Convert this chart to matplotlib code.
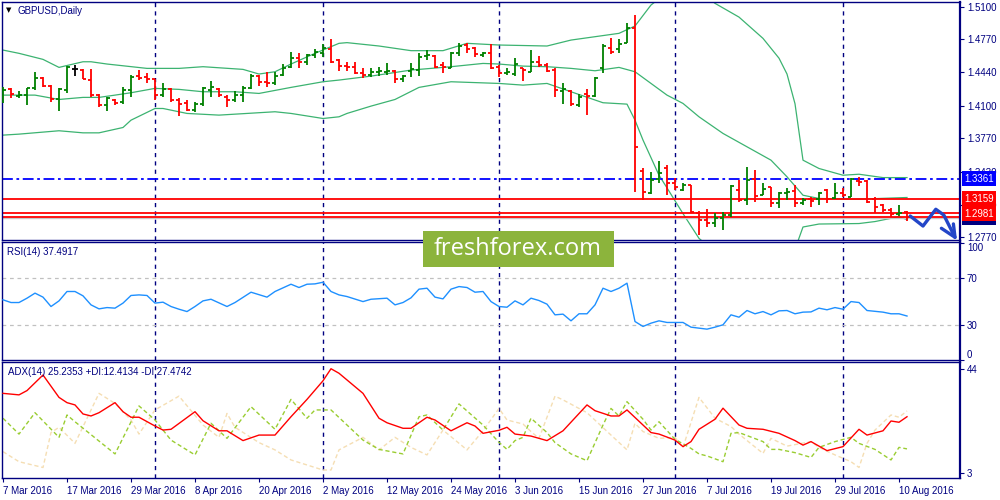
import matplotlib
matplotlib.use("Agg")
import matplotlib.pyplot as plt
import matplotlib.transforms as mtransforms
from matplotlib.patches import Rectangle
import numpy as np
import pandas as pd

# ---- data ----
dates = pd.bdate_range("2016-03-07", periods=114)

opens = [1.4198, 1.4269, 1.4198, 1.4208, 1.4279, 1.4380, 1.4299, 1.4168, 1.4259, 1.4471,
         1.4461, 1.4360, 1.4208, 1.4107, 1.4158, 1.4137, 1.4259, 1.4400, 1.4390, 1.4370,
         1.4208, 1.4269, 1.4158, 1.4127, 1.4057, 1.4117, 1.4259, 1.4269, 1.4188, 1.4158,
         1.4208, 1.4279, 1.4400, 1.4340, 1.4329, 1.4410, 1.4491, 1.4582, 1.4542, 1.4612,
         1.4632, 1.4673, 1.4562, 1.4501, 1.4491, 1.4430, 1.4410, 1.4440, 1.4440, 1.4451,
         1.4370, 1.4451, 1.4461, 1.4602, 1.4602, 1.4511, 1.4481, 1.4632, 1.4713, 1.4683,
         1.4612, 1.4632, 1.4491, 1.4430, 1.4420, 1.4481, 1.4440, 1.4542, 1.4511, 1.4461,
         1.4249, 1.4249, 1.4107, 1.4218, 1.4198, 1.4481, 1.4683, 1.4673, 1.4733, 1.4885,
         1.3441, 1.3218, 1.3360, 1.3471, 1.3319, 1.3249, 1.3299, 1.3016, 1.2946, 1.2915,
         1.2966, 1.2996, 1.3249, 1.3148, 1.3360, 1.3198, 1.3279, 1.3117, 1.3218, 1.3239,
         1.3117, 1.3158, 1.3158, 1.3249, 1.3168, 1.3218, 1.3178, 1.3340, 1.3340, 1.3158,
         1.3097, 1.3047, 1.3006, 1.3027]
highs = [1.4289, 1.4279, 1.4249, 1.4279, 1.4440, 1.4390, 1.4309, 1.4279, 1.4501, 1.4511,
         1.4471, 1.4471, 1.4218, 1.4188, 1.4168, 1.4289, 1.4410, 1.4461, 1.4430, 1.4370,
         1.4329, 1.4279, 1.4178, 1.4158, 1.4137, 1.4289, 1.4350, 1.4279, 1.4208, 1.4249,
         1.4299, 1.4420, 1.4410, 1.4440, 1.4440, 1.4521, 1.4642, 1.4632, 1.4622, 1.4673,
         1.4723, 1.4774, 1.4572, 1.4542, 1.4542, 1.4481, 1.4481, 1.4491, 1.4531, 1.4461,
         1.4410, 1.4531, 1.4632, 1.4663, 1.4612, 1.4542, 1.4642, 1.4733, 1.4733, 1.4693,
         1.4642, 1.4723, 1.4511, 1.4481, 1.4582, 1.4481, 1.4663, 1.4602, 1.4531, 1.4481,
         1.4329, 1.4259, 1.4218, 1.4269, 1.4390, 1.4723, 1.4784, 1.4774, 1.4935, 1.5016,
         1.3471, 1.3430, 1.3542, 1.3501, 1.3370, 1.3319, 1.3299, 1.3037, 1.3057, 1.3016,
         1.3027, 1.3299, 1.3350, 1.3481, 1.3451, 1.3319, 1.3279, 1.3228, 1.3269, 1.3299,
         1.3168, 1.3178, 1.3228, 1.3259, 1.3319, 1.3269, 1.3370, 1.3380, 1.3350, 1.3178,
         1.3107, 1.3067, 1.3097, 1.3037]
lows = [1.4127, 1.4178, 1.4178, 1.4107, 1.4259, 1.4289, 1.4137, 1.4047, 1.4228, 1.4400,
        1.4370, 1.4188, 1.4087, 1.4047, 1.4107, 1.4117, 1.4188, 1.4360, 1.4329, 1.4158,
        1.4188, 1.4137, 1.3996, 1.4047, 1.4037, 1.4097, 1.4188, 1.4188, 1.4087, 1.4137,
        1.4137, 1.4269, 1.4299, 1.4289, 1.4309, 1.4400, 1.4481, 1.4481, 1.4511, 1.4582,
        1.4592, 1.4531, 1.4451, 1.4451, 1.4420, 1.4380, 1.4390, 1.4400, 1.4410, 1.4329,
        1.4340, 1.4390, 1.4400, 1.4562, 1.4481, 1.4430, 1.4481, 1.4602, 1.4632, 1.4592,
        1.4592, 1.4471, 1.4390, 1.4410, 1.4400, 1.4350, 1.4440, 1.4491, 1.4440, 1.4188,
        1.4117, 1.4097, 1.4087, 1.4006, 1.4188, 1.4430, 1.4622, 1.4632, 1.4733, 1.3228,
        1.3148, 1.3208, 1.3319, 1.3198, 1.3249, 1.3239, 1.3016, 1.2794, 1.2875, 1.2875,
        1.2845, 1.2976, 1.3127, 1.3097, 1.3127, 1.3198, 1.3077, 1.3067, 1.3148, 1.3077,
        1.3097, 1.3077, 1.3097, 1.3117, 1.3158, 1.3178, 1.3178, 1.3289, 1.3117, 1.3016,
        1.3027, 1.2976, 1.2986, 1.2936]
closes = [1.4259, 1.4218, 1.4208, 1.4279, 1.4380, 1.4299, 1.4168, 1.4269, 1.4491, 1.4471,
          1.4370, 1.4208, 1.4107, 1.4178, 1.4127, 1.4259, 1.4390, 1.4380, 1.4370, 1.4208,
          1.4269, 1.4158, 1.4117, 1.4057, 1.4117, 1.4279, 1.4289, 1.4208, 1.4158, 1.4208,
          1.4279, 1.4400, 1.4340, 1.4329, 1.4400, 1.4481, 1.4582, 1.4542, 1.4612, 1.4642,
          1.4683, 1.4542, 1.4501, 1.4491, 1.4430, 1.4410, 1.4440, 1.4451, 1.4451, 1.4370,
          1.4400, 1.4471, 1.4592, 1.4612, 1.4491, 1.4491, 1.4632, 1.4703, 1.4673, 1.4622,
          1.4632, 1.4481, 1.4430, 1.4440, 1.4521, 1.4461, 1.4542, 1.4511, 1.4451, 1.4259,
          1.4269, 1.4117, 1.4188, 1.4198, 1.4380, 1.4703, 1.4642, 1.4723, 1.4885, 1.3683,
          1.3228, 1.3350, 1.3420, 1.3319, 1.3279, 1.3299, 1.3027, 1.2946, 1.2915, 1.2966,
          1.2996, 1.3289, 1.3148, 1.3350, 1.3188, 1.3259, 1.3117, 1.3218, 1.3228, 1.3117,
          1.3148, 1.3138, 1.3218, 1.3158, 1.3218, 1.3198, 1.3360, 1.3329, 1.3127, 1.3077,
          1.3047, 1.3006, 1.3016, 1.2976]

# Bollinger bands (20): vertices as (bar index, price)
bb_up_bar = [0, 2, 5, 7, 10, 11, 13, 18, 22, 25, 30, 32, 34, 36, 39, 42, 43, 47, 51, 55,
             58, 62, 68, 71, 74, 77, 79, 81, 82, 84, 86, 88, 89, 92, 95, 97, 98, 99, 100,
             102, 105, 107, 110, 113]
bb_up = [1.4662, 1.4629, 1.4568, 1.4487, 1.4544, 1.4544, 1.4521, 1.4477, 1.4477, 1.4494,
         1.4467, 1.4420, 1.4443, 1.4521, 1.4629, 1.4730, 1.4737, 1.4703, 1.4656, 1.4656,
         1.4730, 1.4713, 1.4703, 1.4763, 1.4797, 1.4831, 1.4905, 1.5117, 1.5180, 1.5260,
         1.5280, 1.5200, 1.5134, 1.4995, 1.4780, 1.4580, 1.4420, 1.4120, 1.3550,
         1.3466, 1.3398, 1.3408, 1.3374, 1.3374]
bb_mid_bar = [0, 4, 7, 10, 12, 14, 16, 19, 22, 25, 29, 32, 36, 40, 42, 46, 51, 56, 60, 62,
              65, 68, 71, 74, 77, 79, 81, 83, 85, 87, 90, 93, 96, 98, 100, 102, 107, 113]
bb_mid = [1.4207, 1.4207, 1.4163, 1.4184, 1.4184, 1.4207, 1.4231, 1.4275, 1.4265, 1.4241,
          1.4241, 1.4224, 1.4285, 1.4342, 1.4359, 1.4399, 1.4460, 1.4494, 1.4527, 1.4521,
          1.4500, 1.4494, 1.4477, 1.4453, 1.4487, 1.4443, 1.4325, 1.4207, 1.4123, 1.3988,
          1.3820, 1.3685, 1.3550, 1.3382, 1.3196, 1.3163, 1.3156, 1.3173]
bb_lo_bar = [0, 2, 7, 10, 12, 15, 16, 19, 20, 23, 27, 34, 36, 40, 42, 43, 46, 49, 52, 56,
             62, 65, 68, 71, 75, 78, 79, 80, 82, 83, 85, 87, 90, 95, 98, 99, 100, 102,
             107, 109, 112, 113]
bb_lo = [1.3803, 1.3813, 1.3847, 1.3826, 1.3826, 1.3880, 1.3954, 1.4072, 1.4072, 1.4022,
         1.4005, 1.4039, 1.4022, 1.3971, 1.3988, 1.4022, 1.4096, 1.4163, 1.4285, 1.4342,
         1.4325, 1.4308, 1.4325, 1.4241, 1.4130, 1.4116, 1.3954, 1.3753, 1.3398, 1.3270,
         1.3010, 1.2760, 1.2560, 1.2450, 1.2560, 1.2650, 1.2875, 1.2905,
         1.2910, 1.2930, 1.2979, 1.2950]

rsi_bar = [0, 1, 2, 3, 4, 5, 6, 7, 8, 9, 10, 11, 12, 13, 14, 15, 16, 17, 18, 19, 20, 21, 22,
           23, 24, 25, 26, 28, 29, 31, 33, 34, 36, 37, 38, 39, 40, 41, 42, 43, 45, 46, 48,
           49, 50, 51, 52, 53, 54, 55, 56, 57, 58, 59, 60, 61, 62, 63, 64, 65, 66, 67, 68,
           69, 70, 71, 72, 73, 74, 75, 76, 77, 78, 79, 80, 81, 82, 83, 85, 86, 88, 89, 90,
           91, 92, 93, 94, 95, 96, 97, 98, 99, 100, 101, 102, 103, 104, 105, 106, 107, 108,
           110, 111, 112, 113]
rsi = [51.3, 49.0, 49.0, 52.7, 57.0, 53.6, 45.6, 50.4, 58.4, 58.4, 54.7, 47.0, 43.6, 44.7,
       44.2, 48.5, 55.0, 55.5, 55.0, 48.5, 49.3, 45.6, 43.3, 41.3, 45.6, 50.4, 51.8, 45.6,
       49.0, 57.8, 53.6, 58.4, 64.6, 61.8, 64.6, 64.9, 66.3, 58.4, 55.5, 54.1, 49.8, 51.8,
       52.7, 47.0, 49.0, 53.0, 60.4, 61.2, 53.6, 52.1, 60.4, 62.6, 61.8, 57.8, 58.4, 49.8,
       45.6, 45.0, 50.4, 47.0, 52.7, 50.7, 47.6, 38.5, 39.1, 33.4, 39.4, 39.4, 47.0, 61.2,
       58.4, 61.2, 65.5, 32.8, 28.6, 31.4, 33.4, 32.0, 32.0, 28.0, 26.3, 28.0, 30.0, 38.5,
       36.5, 42.2, 39.4, 41.3, 38.5, 41.9, 42.2, 39.4, 40.8, 41.0, 44.2, 42.8, 44.7, 43.3,
       49.8, 49.0, 42.2, 40.8, 39.4, 39.4, 37.5]

adx_bar = [0, 2, 3, 5, 7, 8, 9, 10, 11, 12, 14, 15, 16, 17, 19, 20, 21, 24, 25, 27, 28, 30,
           32, 34, 36, 38, 40, 41, 42, 45, 47, 48, 50, 51, 53, 54, 56, 58, 59, 60, 62, 63,
           64, 66, 68, 70, 73, 74, 76, 77, 78, 81, 82, 84, 85, 86, 87, 89, 90, 92, 93, 95,
           97, 99, 100, 101, 103, 105, 107, 108, 110, 111, 112, 113]
adx = [34.5, 33.9, 35.6, 41.8, 32.9, 30.8, 29.9, 26.3, 25.5, 26.8, 30.8, 27.2, 25.0, 25.0,
       21.5, 19.9, 20.2, 27.2, 23.6, 19.6, 19.6, 15.7, 17.9, 17.9, 25.2, 32.1, 39.5, 44.3,
       42.5, 34.5, 24.6, 22.8, 20.6, 20.6, 25.0, 23.9, 19.6, 22.8, 21.5, 18.6, 19.8, 21.0,
       18.3, 17.5, 15.7, 19.6, 29.9, 27.6, 25.5, 25.5, 27.9, 18.9, 18.3, 15.9, 13.3, 15.3,
       20.2, 24.2, 28.6, 21.9, 20.6, 20.2, 18.6, 15.7, 13.9, 15.3, 11.7, 13.3, 20.2, 17.9,
       19.6, 23.5, 23.0, 25.2]
pdi_bar = [0, 2, 4, 7, 8, 9, 14, 17, 19, 21, 24, 26, 28, 31, 34, 36, 38, 39, 41, 45, 47, 50,
           52, 53, 55, 57, 60, 62, 63, 64, 65, 66, 68, 69, 71, 73, 75, 76, 77, 78, 80, 81,
           82, 84, 86, 87, 88, 90, 91, 92, 95, 96, 97, 99, 101, 102, 104, 106, 107, 109,
           111, 112, 113]
pdi = [24.6, 18.3, 26.8, 17.0, 25.9, 23.2, 10.4, 29.5, 23.9, 15.9, 10.0, 22.6, 16.6, 29.2,
       20.2, 32.1, 24.6, 27.9, 27.9, 15.9, 12.2, 10.4, 25.2, 25.9, 19.9, 30.3, 21.9, 15.0,
       12.2, 15.7, 17.0, 24.6, 18.9, 14.9, 10.4, 7.7, 21.9, 28.5, 25.5, 31.2, 24.2, 19.9,
       23.2, 16.2, 12.6, 10.4, 9.6, 7.3, 18.6, 18.9, 15.3, 12.2, 12.2, 10.9, 9.0, 13.0,
       15.3, 17.0, 14.6, 12.2, 8.0, 13.0, 12.4]
mdi_bar = [0, 2, 5, 6, 7, 9, 12, 14, 16, 17, 19, 22, 25, 27, 28, 29, 32, 34, 36, 40, 41, 42,
           45, 47, 49, 51, 53, 55, 58, 60, 62, 63, 65, 66, 67, 69, 70, 73, 76, 78, 79, 80,
           82, 84, 85, 87, 89, 91, 92, 95, 96, 98, 101, 102, 104, 106, 107, 108, 109, 111,
           112, 113]
mdi = [11.3, 7.3, 5.0, 18.9, 21.0, 14.6, 34.5, 30.5, 23.9, 18.3, 27.9, 33.4, 21.9, 17.0,
       26.5, 21.0, 14.9, 12.0, 8.0, 4.0, 4.0, 12.0, 17.0, 12.0, 17.0, 13.0, 10.0, 19.9,
       12.0, 19.6, 28.5, 23.9, 22.3, 19.3, 16.6, 33.4, 31.9, 26.8, 17.9, 12.0, 22.6, 19.3,
       16.6, 17.0, 13.0, 32.9, 24.6, 21.3, 18.3, 10.6, 16.6, 13.5, 15.3, 13.0, 10.0, 7.3,
       5.0, 14.6, 19.9, 25.9, 25.0, 27.5]

blue_level = 1.3361
red_levels = [1.3159, 1.3015, 1.2981]
bid_level = 1.2963
price_ticks = [1.5100, 1.4770, 1.4440, 1.4100, 1.3770, 1.3430, 1.3100, 1.2770]

# hand-drawn forecast arrow (bar index, price)
arrow_bar = [113.4, 115.0, 116.6, 117.6, 119.0]
arrow_price = [1.2986, 1.2885, 1.3054, 1.2996, 1.2771]
head_bar = [117.3, 119.0, 118.8]
head_price = [1.2862, 1.2771, 1.2906]

NAVY = "#000080"
GREEN = "#008000"
RED = "#FF0000"

plt.rcParams["font.family"] = ["Liberation Sans", "DejaVu Sans"]

W, H = 1000, 500
fig = plt.figure(figsize=(10, 5), dpi=100)
fig.patch.set_facecolor("white")


def px_axes(x0, y0, x1, y1):
    # pixel box measured from the top-left corner
    return fig.add_axes([x0 / W, 1 - y1 / H, (x1 - x0) / W, (y1 - y0) / H])


ax = px_axes(2, 2, 960, 240)
ax_rsi = px_axes(2, 242, 960, 360)
ax_adx = px_axes(2, 362, 960, 478)

x = np.arange(len(dates))
xlim = (-0.125, 119.625)
month_first = [i for i in range(1, len(dates)) if dates[i].month != dates[i - 1].month]

for a in (ax, ax_rsi, ax_adx):
    a.set_xlim(*xlim)
    for s in a.spines.values():
        s.set_color(NAVY)
        s.set_linewidth(1.0)
    a.spines["right"].set_linewidth(1.6)
    a.yaxis.tick_right()
    a.tick_params(axis="y", colors=NAVY, labelcolor=NAVY, labelsize=7,
                  length=3, width=0.8, pad=2)
    for m in month_first:
        a.axvline(m, color=NAVY, lw=1.0, ls=(0, (3, 3)), zorder=1)

# ---- price panel ----
ax.set_ylim(1.27437, 1.51475)
ax.set_xticks([])
ax.set_yticks(price_ticks)
ax.set_yticklabels(["%.4f" % p for p in price_ticks])

band = "#3CB371"
ax.plot(bb_up_bar, bb_up, color=band, lw=0.9, zorder=2)
ax.plot(bb_mid_bar, bb_mid, color=band, lw=0.9, zorder=2)
ax.plot(bb_lo_bar, bb_lo, color=band, lw=0.9, zorder=2)

ax.axhline(bid_level, color="#C8C8C8", lw=1.0, zorder=2)
for lv in red_levels:
    ax.axhline(lv, color=RED, lw=1.3, zorder=2.2)
ax.axhline(blue_level, color="#0000FF", lw=1.3, ls=(0, (6, 2, 1.5, 2)), zorder=2.2)

o = np.array(opens)
c = np.array(closes)
cols = [GREEN if cc > oo else (RED if cc < oo else "black") for oo, cc in zip(o, c)]
ax.vlines(x, lows, highs, colors=cols, lw=1.3, zorder=3)
ax.hlines(o, x - 0.35, x, colors=cols, lw=1.3, zorder=3)
ax.hlines(c, x, x + 0.35, colors=cols, lw=1.3, zorder=3)

ax.plot(arrow_bar, arrow_price, color="#2346C8", lw=2.4, solid_joinstyle="round",
        solid_capstyle="round", clip_on=False, zorder=4)
ax.plot(head_bar, head_price, color="#2346C8", lw=2.4, solid_joinstyle="round",
        solid_capstyle="round", clip_on=False, zorder=4)

lab_tr = mtransforms.blended_transform_factory(ax.transAxes, ax.transData)
box_x = 1.0042


def price_box(level, text, color, dy=0):
    tr = mtransforms.offset_copy(lab_tr, fig=fig, x=0, y=dy, units="dots")
    ax.text(box_x, level, text, transform=tr, color="white", fontsize=7,
            ha="left", va="center", clip_on=False, zorder=6,
            bbox=dict(boxstyle="square,pad=0.25", fc=color, ec="none"))


price_box(blue_level, "%.4f" % blue_level, "#0000FF")
price_box(red_levels[0], "%.4f" % red_levels[0], RED)
price_box(red_levels[2], "%.4f" % red_levels[2], NAVY, dy=-1)
price_box(red_levels[2], "%.4f" % red_levels[2], RED, dy=3)

# ---- RSI panel ----
ax_rsi.set_ylim(0, 100.6)
ax_rsi.set_xticks([])
ax_rsi.set_yticks([0, 30, 70, 100])
ax_rsi.set_yticklabels(["0", "30", "70", "100"])
for t in ax_rsi.get_yticklabels():
    if t.get_text() == "100":
        t.set_va("top")
    elif t.get_text() == "0":
        t.set_va("bottom")
for lv in (30, 70):
    ax_rsi.axhline(lv, color="#C0C0C0", lw=0.9, ls=(0, (3, 3)), zorder=1)
ax_rsi.plot(rsi_bar, rsi, color="#1E90FF", lw=1.0, zorder=3)

# ---- ADX panel ----
ax_adx.set_ylim(0.816, 46.98)
ax_adx.set_yticks([3, 44])
ax_adx.set_yticklabels(["3", "44"])
ax_adx.plot(mdi_bar, mdi, color="#F5DEB3", lw=1.0, ls=(0, (3, 2)), zorder=2)
ax_adx.plot(pdi_bar, pdi, color="#9ACD32", lw=1.0, ls=(0, (3, 2)), zorder=2)
ax_adx.plot(adx_bar, adx, color=RED, lw=1.0, zorder=3)

xt = list(range(0, len(dates), 8))
ax_adx.set_xticks(xt)
ax_adx.set_xticklabels(["%d %s" % (dates[i].day, dates[i].strftime("%b %Y")) for i in xt],
                       ha="left")
ax_adx.tick_params(axis="x", colors=NAVY, labelcolor=NAVY, labelsize=7,
                   length=3, width=0.8, pad=3)

# ---- captions ----
fig.text(6 / W, 1 - 10.5 / H, "\u25bc", fontsize=5, color="black",
         family="DejaVu Sans", va="center")
fig.text(18 / W, 1 - 11 / H, "GBPUSD,Daily", fontsize=7, color=NAVY, va="center")
fig.text(7 / W, 1 - 252 / H, "RSI(14) 37.4917", fontsize=7, color=NAVY, va="center")
fig.text(8 / W, 1 - 372 / H, "ADX(14) 25.2353 +DI:12.4134 -DI:27.4742", fontsize=7,
         color=NAVY, va="center")

# watermark
fig.add_artist(Rectangle((423 / W, 1 - 267 / H), 191 / W, 36 / H,
                         transform=fig.transFigure, fc="#8CB43C", ec="none", zorder=5))
fig.text(518 / W, 1 - 249 / H, "freshforex.com", color="white", fontsize=17,
         family="Open Sans", ha="center", va="center", zorder=6)

fig.savefig("out.png", dpi=100, facecolor="white")
